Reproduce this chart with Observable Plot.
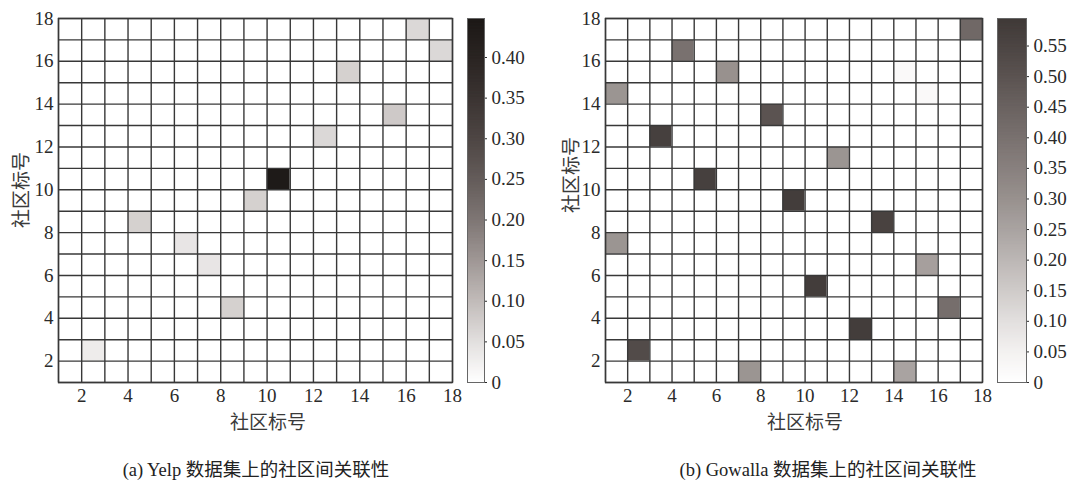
<!DOCTYPE html>
<html><head><meta charset="utf-8">
<script src="https://cdn.jsdelivr.net/npm/d3@7"></script>
<script src="https://cdn.jsdelivr.net/npm/@observablehq/plot@0.6"></script>
<style>
body{margin:0;background:#fff;width:1073px;height:492px;overflow:hidden;position:relative;}
.lab{position:absolute;font-family:"Noto Sans CJK SC";font-size:19px;line-height:1;color:#3a3a3a;white-space:nowrap;transform:translate(-50%,-50%);}
.ylab{transform:translate(-50%,-50%) rotate(-90deg);}
.cap{position:absolute;font-family:"Liberation Serif","Noto Sans CJK SC";font-size:18.5px;line-height:1;color:#222;white-space:nowrap;transform:translate(-50%,-50%);}
svg{overflow:visible;}
</style></head><body>
<script>
// community indices (cell lower corners) and tick labels
const communities = d3.range(1, 18);
const gridLines = d3.range(1, 19);
const axisTicks = [2, 4, 6, 8, 10, 12, 14, 16, 18];

// (a) Yelp: non-zero cells (column, row, value)
const yelpCol = [10, 9, 4, 6, 7, 8, 2, 16, 17, 13, 15, 12];
const yelpRow = [10, 9, 8, 7, 6, 4, 2, 17, 16, 15, 13, 12];
const yelpVal = [0.44, 0.07, 0.07, 0.04, 0.04, 0.07, 0.03, 0.06, 0.06, 0.07, 0.08, 0.06];
const yelpMax = 0.448;
const yelpTicks = [0, 0.05, 0.10, 0.15, 0.20, 0.25, 0.30, 0.35, 0.40];

// (b) Gowalla: non-zero cells
const gowCol = [4, 6, 1, 8, 3, 5, 9, 1, 2, 7, 10, 17, 11, 13, 15, 16, 12, 14, 14, 15];
const gowRow = [16, 15, 14, 13, 12, 10, 9, 7, 2, 1, 5, 17, 11, 8, 6, 4, 3, 1, 15, 14];
const gowVal = [0.40, 0.30, 0.29, 0.50, 0.57, 0.57, 0.58, 0.29, 0.53, 0.29, 0.58, 0.43, 0.29, 0.56, 0.26, 0.41, 0.58, 0.25, 0.02, 0.02];
const gowMax = 0.595;
const gowTicks = [0, 0.05, 0.10, 0.15, 0.20, 0.25, 0.30, 0.35, 0.40, 0.45, 0.50, 0.55];

// colormap stops
const yelpStops = [0, 0.05, 0.10, 0.15, 0.20, 0.25, 0.30, 0.35, 0.40, 0.448];
const yelpColors = ["#ffffff", "#e2dfde", "#c1bbb9", "#9f9795", "#7e7674", "#645c5a", "#4e4644", "#3b3432", "#2a2422", "#1c1816"];
const gowStops = [0, 0.05, 0.10, 0.15, 0.20, 0.25, 0.30, 0.35, 0.40, 0.45, 0.50, 0.55, 0.595];
const gowColors = ["#ffffff", "#f3f1f0", "#e2dfde", "#cfcbc9", "#bcb7b5", "#a9a3a1", "#98918e", "#88807e", "#79716f", "#6a6260", "#5b5351", "#4c4543", "#3f3937"];

const captions = ["(a) Yelp 数据集上的社区间关联性", "(b) Gowalla 数据集上的社区间关联性"];
const axisName = "社区标号";

const fontStyle = {fontFamily: "'Liberation Serif', serif", fontSize: "19px", color: "#2a2a2a", background: "transparent"};

function heatmap(cols, rows, vals, stops, colors, marginLeft, gridRight) {
  const lookup = new Map(cols.map((c, i) => [c + "," + rows[i], vals[i]]));
  const cells = d3.cross(communities, communities).map(([c, r]) => ({col: c, row: r, value: lookup.get(c + "," + r) ?? 0}));
  return Plot.plot({
    width: gridRight + 18, height: 440,
    marginLeft, marginRight: 18, marginTop: 18, marginBottom: 58,
    style: fontStyle,
    x: {domain: [1, 18], ticks: axisTicks, tickSize: 0, tickPadding: 6, label: null},
    y: {domain: [1, 18], ticks: axisTicks, tickSize: 0, tickPadding: 5, label: null},
    color: {type: "linear", domain: stops, range: colors, clamp: true},
    marks: [
      Plot.rect(cells, {x1: "col", x2: d => d.col + 1, y1: "row", y2: d => d.row + 1, fill: "value", inset: 0}),
      Plot.gridX(gridLines, {stroke: "#383838", strokeOpacity: 1, strokeWidth: 1.4}),
      Plot.gridY(gridLines, {stroke: "#383838", strokeOpacity: 1, strokeWidth: 1.4}),
      Plot.frame({stroke: "#383838", strokeWidth: 1.4})
    ]
  });
}

function colorbar(max, ticks, stops, colors, barWidth) {
  const n = 240, step = max / n;
  const stripes = d3.range(n).map(i => i * step);
  return Plot.plot({
    width: barWidth + 60, height: 440,
    marginLeft: 0, marginRight: 60, marginTop: 18, marginBottom: 58,
    style: fontStyle,
    x: {axis: null},
    y: {domain: [0, max], axis: "right", ticks, tickSize: 2, tickPadding: 5, label: null,
        tickFormat: d => d === 0 ? "0" : d3.format(".2f")(d)},
    color: {type: "linear", domain: stops, range: colors, clamp: true},
    marks: [
      Plot.rect(stripes, {y1: d => d, y2: d => Math.min(max, d + step * 3), fill: d => d + step / 2, inset: 0}),
      Plot.frame({stroke: "#666", strokeWidth: 1})
    ]
  });
}

function place(el, left, top) {
  el.style.position = "absolute";
  el.style.left = left + "px";
  el.style.top = top + "px";
  document.body.appendChild(el);
}
function label(text, x, y, cls) {
  const d = document.createElement("div");
  d.className = cls;
  d.textContent = text;
  d.style.left = x + "px";
  d.style.top = y + "px";
  document.body.appendChild(d);
}

// Panel (a)
place(heatmap(yelpCol, yelpRow, yelpVal, yelpStops, yelpColors, 58, 452), 0, 0);
place(colorbar(yelpMax, yelpTicks, yelpStops, yelpColors, 17), 467, 0);
// Panel (b)
place(heatmap(gowCol, gowRow, gowVal, gowStops, gowColors, 65, 442), 540, 0);
place(colorbar(gowMax, gowTicks, gowStops, gowColors, 29), 997, 0);

label(axisName, 268, 420, "lab");
label(axisName, 805, 420, "lab");
label(axisName, 19, 190, "lab ylab");
label(axisName, 569, 175, "lab ylab");
label(captions[0], 256, 470, "cap");
label(captions[1], 828, 470, "cap");
</script>
</body></html>
